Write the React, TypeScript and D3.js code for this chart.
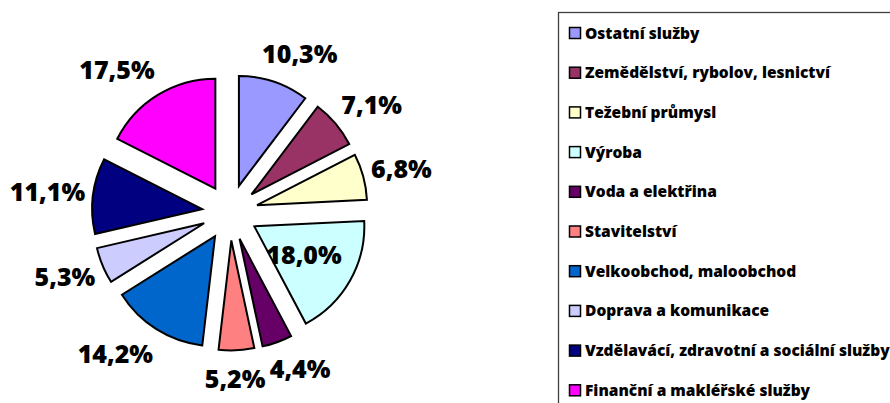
import React from "react";
import * as d3 from "d3";

const categories = [
  "Ostatní služby",
  "Zemědělství, rybolov, lesnictví",
  "Težební průmysl",
  "Výroba",
  "Voda a elektřina",
  "Stavitelství",
  "Velkoobchod, maloobchod",
  "Doprava a komunikace",
  "Vzdělavácí, zdravotní a sociální služby",
  "Finanční a makléřské služby",
];
const values = [10.3, 7.1, 6.8, 18.0, 4.4, 5.2, 14.2, 5.3, 11.1, 17.5];
const colors = [
  "#9999FF",
  "#993366",
  "#FFFFCC",
  "#CCFFFF",
  "#660066",
  "#FF8080",
  "#0066CC",
  "#CCCCFF",
  "#000080",
  "#FF00FF",
];
const insideLabel = [false, false, false, true, false, false, false, false, false, false];

const W = 890;
const H = 403;
const cx = 230;
const cy = 212.5;
const R = 110;
const explode = 28;
const FONT = "'Open Sans', Lato, Calibri, sans-serif";

function fmt(v: number) {
  return v.toFixed(1).replace(".", ",") + "%";
}

export default function App() {
  const pie = d3.pie<number>().sort(null).value((d) => d);
  const arcs = pie(values);
  const arc = d3.arc<d3.PieArcDatum<number>>().innerRadius(0).outerRadius(R);
  const labelFont = 25;
  const labelGap = 10;
  const labelHalfH = 19;
  const charW = labelFont * 0.57;

  // compute label positions
  const labels = arcs.map((a, i) => {
    const mid = (a.startAngle + a.endAngle) / 2;
    const s = Math.sin(mid);
    const c = -Math.cos(mid);
    const text = fmt(values[i]);
    const w = text.length * charW;
    let x: number, y: number;
    if (insideLabel[i]) {
      const rr = explode + R * 0.52;
      x = cx + s * rr;
      y = cy + c * rr;
    } else {
      const rr = R + explode + labelGap;
      const hx = Math.max(-1, Math.min(1, 2 * s));
      x = cx + s * rr + (hx * w) / 2;
      y = cy + c * rr + c * labelHalfH;
    }
    return { text, x, y, w, c, inside: insideLabel[i] };
  });
  // simple collision resolution between consecutive outside labels
  for (let i = 1; i < labels.length; i++) {
    const a = labels[i - 1];
    const b = labels[i];
    if (a.inside || b.inside) continue;
    if (Math.abs(a.y - b.y) < 26) {
      const need = (a.w + b.w) / 2 + 8;
      const dxv = Math.abs(a.x - b.x);
      if (dxv < need) {
        const dir = b.c > 0 ? -1 : 1; // bottom half: clockwise moves left
        b.x += dir * (need - dxv);
      }
    }
  }

  return (
    <svg
      width={W}
      height={H}
      style={{ position: "absolute", left: 0, top: 0, background: "#fff" }}
      fontFamily={FONT}
    >
      <rect x={0} y={0} width={W} height={H} fill="#fff" />
      {arcs.map((a, i) => {
        const mid = (a.startAngle + a.endAngle) / 2;
        const dx = Math.sin(mid) * explode;
        const dy = -Math.cos(mid) * explode;
        return (
          <path
            key={"s" + i}
            d={arc(a) || ""}
            transform={`translate(${cx + dx},${cy + dy})`}
            fill={colors[i]}
            stroke="#000"
            strokeWidth={2}
            strokeLinejoin="miter"
          />
        );
      })}
      {labels.map((l, i) => (
        <text
          key={"l" + i}
          x={l.x}
          y={l.y}
          dy="0.36em"
          textAnchor="middle"
          fontSize={labelFont}
          fontWeight={800}
          fill="#000"
        >
          {l.text}
        </text>
      ))}
      <rect
        x={558.5}
        y={12.5}
        width={400}
        height={420}
        fill="none"
        stroke="#404040"
        strokeWidth={1.3}
      />
      {categories.map((name, i) => {
        const yc = 33 + i * 39.7;
        return (
          <g key={"g" + i}>
            <rect
              x={569.5}
              y={yc - 5.5}
              width={11}
              height={11}
              fill={colors[i]}
              stroke="#000"
              strokeWidth={1.5}
            />
            <text
              x={585}
              y={yc}
              dy="0.36em"
              fontSize={15.5}
              fontWeight={800}
              fill="#000"
            >
              {name}
            </text>
          </g>
        );
      })}
    </svg>
  );
}
